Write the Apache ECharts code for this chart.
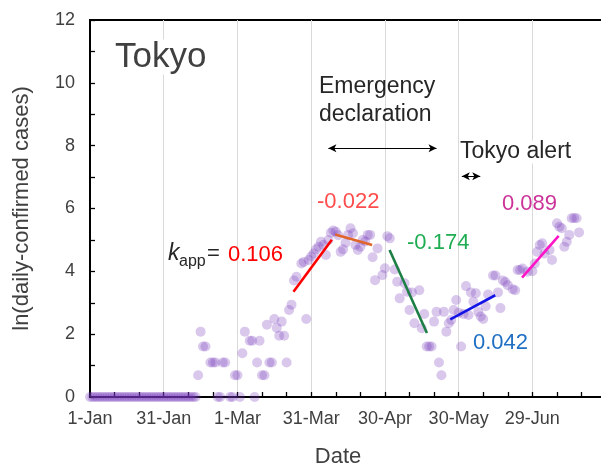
<!DOCTYPE html>
<html>
<head>
<meta charset="utf-8">
<script src="https://cdn.jsdelivr.net/npm/echarts@6/dist/echarts.min.js"></script>
<style>
  html, body { margin: 0; padding: 0; background: #fff; }
  #chart { width: 601px; height: 466px; }
</style>
</head>
<body>
<div id="chart"></div>
<script>
// Day index counted from 1 January 2020 (day 0).
const dayIndex = [
  0,1,2,3,4,5,6,7,8,9,10,11,12,13,14,15,16,17,18,19,20,21,22,23,24,25,26,27,28,29,
  30,31,32,33,34,35,36,37,38,39,40,41,42,43,
  44,45,46,47,49,50,51,52,53,54,55,57,58,59,60,61,62,63,65,66,67,68,69,70,71,72,73,74,
  75,76,77,78,79,80,81,82,83,84,86,87,88,89,90,91,92,93,94,95,96,97,98,99,100,101,
  102,103,104,105,106,107,108,109,110,111,112,113,114,115,116,117,119,120,121,122,124,
  125,126,128,129,130,131,132,134,135,136,137,138,139,140,141,142,143,144,145,146,147,
  148,149,150,151,152,153,154,155,156,157,158,159,160,161,162,164,165,166,167,168,169,
  170,172,173,174,175,176,178,180,181,182,183,184,185,187,188,190,191,192,193,194,195,
  196,197,198,199
];

// ln(daily confirmed cases) in Tokyo.
const lnCases = [
  0,0,0,0,0,0,0,0,0,0,0,0,0,0,0,0,0,0,0,0,0,0,0,0,0,0,0,0,0,0,
  0,0,0,0,0,0,0,0,0,0,0,0,0,0,
  0.69,2.08,1.61,1.61,1.10,1.10,1.10,0,0,1.10,1.10,0,0,0.69,0.69,0,1.39,2.08,1.79,1.79,0,1.10,1.79,0.69,0.69,2.30,1.10,1.10,
  2.48,2.20,1.95,2.40,1.95,1.10,2.77,2.94,3.71,3.83,4.25,4.30,2.48,4.36,4.47,4.57,4.70,4.78,4.94,4.84,4.52,5.00,5.23,5.30,5.26,5.15,
  4.62,4.70,4.91,5.16,5.37,5.21,4.84,4.68,4.78,5.00,4.95,5.16,5.16,4.45,3.72,4.73,3.88,4.10,5.12,5.05,4.06,
  3.67,3.14,3.62,3.35,2.77,3.33,2.35,3.40,2.19,2.64,1.61,1.61,1.61,2.40,2.71,1.10,0.69,2.71,2.08,2.35,2.45,
  2.77,3.09,2.68,1.61,2.64,3.53,2.61,3.33,3.03,3.30,2.71,2.56,2.48,2.89,3.26,3.87,3.87,3.33,2.83,3.71,3.66,
  3.56,3.43,3.40,4.04,4.04,4.09,3.99,4.00,4.25,4.62,4.84,4.89,4.57,4.68,4.36,5.53,5.42,5.37,4.78,4.94,5.16,
  5.69,5.70,5.69,5.24
];

// Linear fits: apparent rate constant k_app over each period.
const fitNames  = ['rise', 'plateau', 'decline', 'regrowth', 'surge'];
const fitStart  = [82.8, 99.8, 121.9, 146.6, 175.8];
const fitEnd    = [98.4, 114.8, 137.1, 164.9, 190.7];
const fitStartY = [3.35, 5.17, 4.68, 2.47, 3.80];
const fitK      = [0.106, -0.022, -0.174, 0.042, 0.089];
const fitLineColors  = ['#ff0000', '#e0652a', '#1d7f45', '#1414e6', '#ff14c8'];
const fitLabelColors = ['#ff0000', '#ff4d4d', '#1fad52', '#1f6fc4', '#cc3399'];

// Policy periods (day index): state of emergency and Tokyo alert.
const emergencySpan = [97, 141];
const alertSpan = [151.3, 158.8];
const emergencyArrowY = 7.92;
const alertArrowY = 7.03;

// Date tick labels every 30 days.
const tickLabels = ['1-Jan', '31-Jan', '1-Mar', '31-Mar', '30-Apr', '30-May', '29-Jun'];

const FONT = '"Liberation Sans", Arial, sans-serif';

const points = dayIndex.map((d, i) => [d, lnCases[i]]);

const fitSeries = fitNames.map((name, i) => ({
  name: name,
  type: 'line',
  z: 5,
  showSymbol: false,
  silent: true,
  data: [
    [fitStart[i], fitStartY[i]],
    [fitEnd[i], fitStartY[i] + fitK[i] * (fitEnd[i] - fitStart[i])]
  ],
  lineStyle: { color: fitLineColors[i], width: 2.6 }
}));

function fmtK(k) { return k.toFixed(3); }

const chart = echarts.init(document.getElementById('chart'), null, { renderer: 'canvas' });

function txt(x, y, text, size, color, extra) {
  return {
    type: 'text', x: x, y: y, z: 20,
    style: Object.assign({
      text: text,
      font: size + 'px ' + FONT,
      fill: color,
      align: 'left',
      verticalAlign: 'middle'
    }, extra || {})
  };
}

chart.setOption({
  animation: false,
  backgroundColor: '#ffffff',
  grid: {
    left: 90, top: 20, height: 377, width: 521,
    outerBoundsMode: 'none',
    containLabel: false,
    show: true, borderColor: '#000', borderWidth: 2
  },
  xAxis: {
    type: 'value',
    min: 0, max: 212, interval: 30,
    axisLine: { show: true, onZero: false, lineStyle: { color: '#000', width: 2 } },
    axisTick: { show: true, inside: true, length: 5, lineStyle: { color: '#000', width: 1.3 } },
    minorTick: { show: true, splitNumber: 3, length: 5, lineStyle: { color: '#000', width: 1.3 } },
    splitLine: { show: true, lineStyle: { color: '#d9d9d9', width: 1 } },
    axisLabel: {
      margin: 13,
      fontSize: 18, fontFamily: FONT, color: '#404040',
      formatter: v => tickLabels[Math.round(v / 30)] || ''
    }
  },
  yAxis: {
    type: 'value',
    min: 0, max: 12, interval: 2,
    axisLine: { show: true, onZero: false, lineStyle: { color: '#000', width: 2 } },
    axisTick: { show: true, inside: true, length: 5, lineStyle: { color: '#000', width: 1.3 } },
    minorTick: { show: true, splitNumber: 2, length: 5, lineStyle: { color: '#000', width: 1.3 } },
    splitLine: { show: false },
    axisLabel: { margin: 15, fontSize: 18, fontFamily: FONT, color: '#404040' }
  },
  series: [
    {
      name: 'cases',
      type: 'scatter',
      z: 3,
      symbol: 'circle',
      symbolSize: 10,
      data: points,
      itemStyle: { color: 'rgba(115,55,185,0.34)' },
      markLine: {
        silent: true,
        symbol: ['arrow', 'arrow'],
        symbolSize: [6, 8],
        label: { show: false },
        lineStyle: { color: '#000', width: 1, type: 'solid' },
        data: [
          [{ coord: [emergencySpan[0], emergencyArrowY] }, { coord: [emergencySpan[1], emergencyArrowY] }],
          [{ coord: [alertSpan[0], alertArrowY] }, { coord: [alertSpan[1], alertArrowY] }]
        ]
      }
    }
  ].concat(fitSeries),
  graphic: [
    // axis titles
    {
      type: 'text', x: 22, y: 208.5, rotation: Math.PI / 2, z: 20,
      style: { text: 'ln(daily-confirmed cases)', font: '22px ' + FONT, fill: '#404040', align: 'center', verticalAlign: 'middle' }
    },
    txt(338, 457, 'Date', 22, '#404040', { align: 'center' }),
    // panel title
    txt(115, 57, 'Tokyo', 35, '#404040', { backgroundColor: '#fff' }),
    // policy annotations
    txt(319, 87, 'Emergency', 23, '#262626'),
    txt(319, 115, 'declaration', 23, '#262626'),
    txt(460, 152, 'Tokyo alert', 23, '#262626', { backgroundColor: '#fff' }),
    // rate constants
    txt(168, 254, 'k', 23, '#262626', { font: 'italic 23px ' + FONT }),
    txt(179, 262, 'app', 16, '#262626'),
    txt(207, 254, '=', 22, '#262626'),
    txt(228, 255, fmtK(fitK[0]), 22, fitLabelColors[0]),
    txt(317, 202, fmtK(fitK[1]), 22, fitLabelColors[1]),
    txt(407, 243, fmtK(fitK[2]), 22, fitLabelColors[2]),
    txt(473, 343, fmtK(fitK[3]), 22, fitLabelColors[3]),
    txt(502, 204, fmtK(fitK[4]), 22, fitLabelColors[4])
  ]
});
</script>
</body>
</html>
